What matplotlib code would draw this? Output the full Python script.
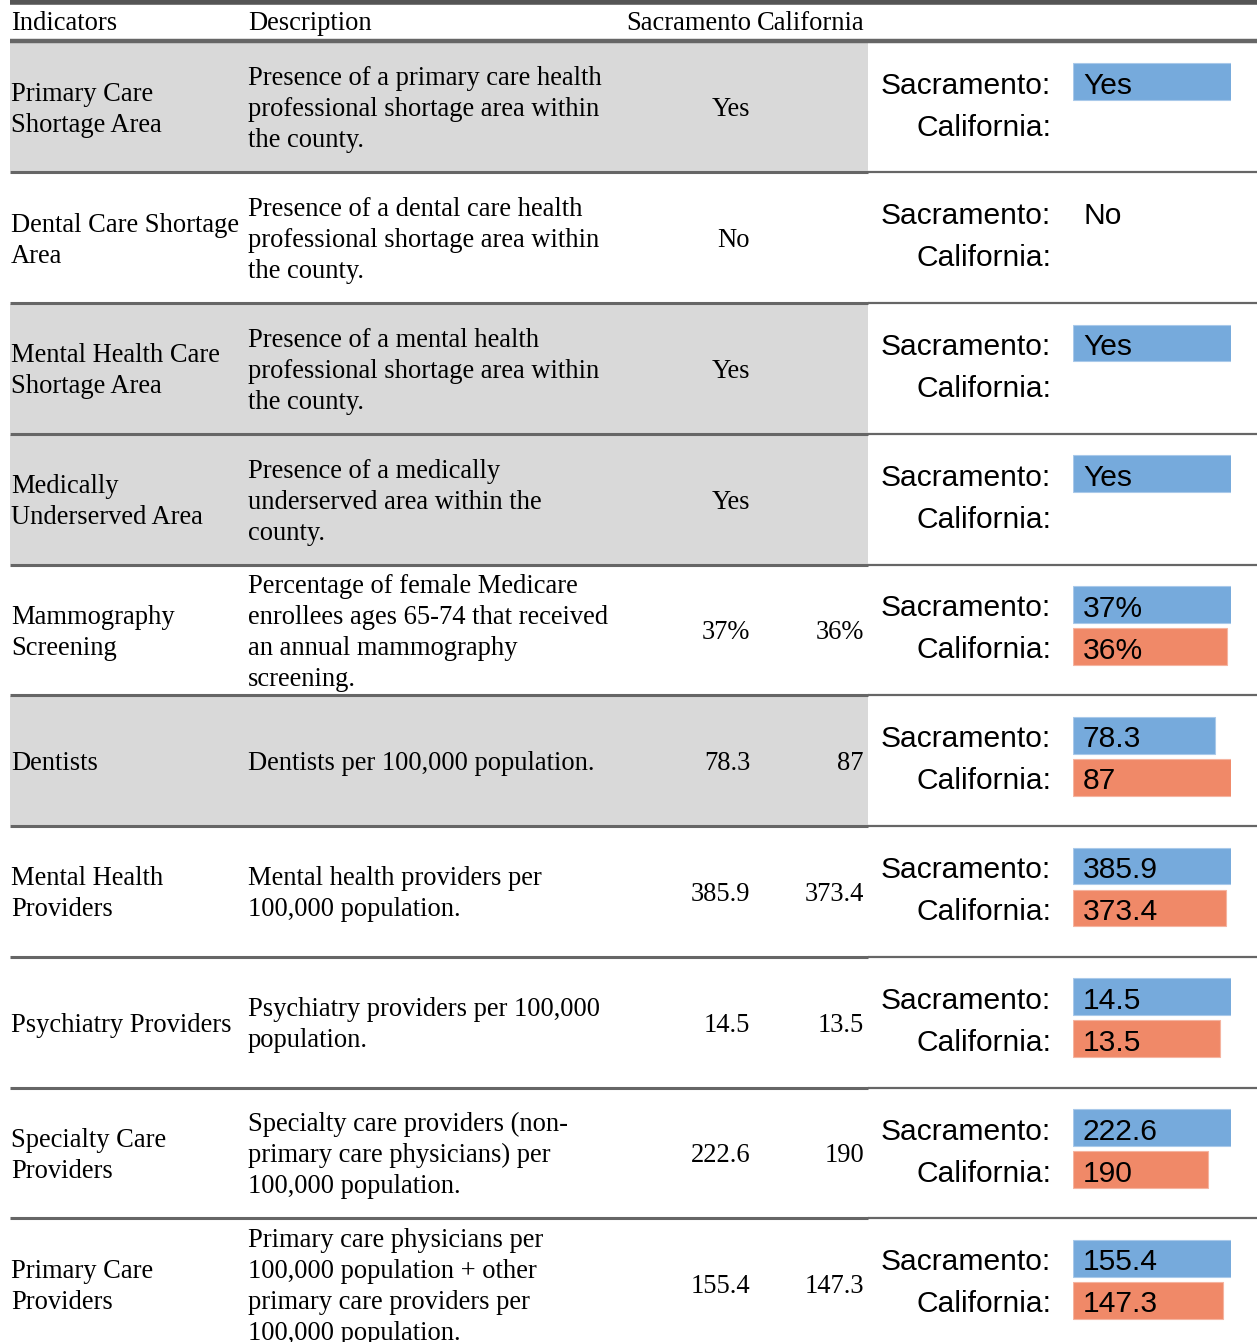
import numpy as np
import matplotlib
matplotlib.use('Agg')
import matplotlib.pyplot as plt

indicators = [
    'Primary Care\nShortage Area', 'Dental Care Shortage\nArea',
    'Mental Health Care\nShortage Area', 'Medically\nUnderserved Area',
    'Mammography\nScreening', 'Dentists', 'Mental Health\nProviders',
    'Psychiatry Providers', 'Specialty Care\nProviders', 'Primary Care\nProviders'
]
descriptions = [
    'Presence of a primary care health\nprofessional shortage area within\nthe county.',
    'Presence of a dental care health\nprofessional shortage area within\nthe county.',
    'Presence of a mental health\nprofessional shortage area within\nthe county.',
    'Presence of a medically\nunderserved area within the\ncounty.',
    'Percentage of female Medicare\nenrollees ages 65-74 that received\nan annual mammography\nscreening.',
    'Dentists per 100,000 population.',
    'Mental health providers per\n100,000 population.',
    'Psychiatry providers per 100,000\npopulation.',
    'Specialty care providers (non-\nprimary care physicians) per\n100,000 population.',
    'Primary care physicians per\n100,000 population + other\nprimary care providers per\n100,000 population.',
]
sac_labels = ['Yes', 'No', 'Yes', 'Yes', '37%', '78.3', '385.9', '14.5', '222.6', '155.4']
cal_labels = ['', '', '', '', '36%', '87', '373.4', '13.5', '190', '147.3']
# numeric values for the bars (Yes = 1, No = 0, no California value = nan)
sac_values = [1, 0, 1, 1, 37, 78.3, 385.9, 14.5, 222.6, 155.4]
cal_values = [np.nan, np.nan, np.nan, np.nan, 36, 87, 373.4, 13.5, 190, 147.3]
shaded = [True, False, True, True, False, True, False, False, False, False]

blue = '#76aadc'
orange = '#f08968'
line_col = '#666666'
serif = ['Liberation Serif', 'DejaVu Serif']
sans = ['Liberation Sans', 'DejaVu Sans']

W, H = 1257, 1342
fig = plt.figure(figsize=(W / 100, H / 100), dpi=100)
ax = fig.add_axes([0, 0, 1, 1])
ax.set_xlim(0, W)
ax.set_ylim(H, 0)
ax.axis('off')

fs = 19.1
sfs = 21.6
pitch = 31
row_top0 = 41.5
row_h = 130.75


def multiline(x, yc, s, ha='left'):
    lines = s.split('\n')
    n = len(lines)
    for i, ln in enumerate(lines):
        y = yc + (i - (n - 1) / 2) * pitch
        ax.text(x, y, ln, ha=ha, va='center', fontsize=fs, family=serif)


# top bar and header
ax.plot([10, W], [2, 2], color='#555555', lw=4, solid_capstyle='butt')
ax.text(11, 24, 'Indicators', fontsize=fs, family=serif, va='center')
ax.text(248, 24, 'Description', fontsize=fs, family=serif, va='center')
ax.text(626, 24, 'Sacramento', fontsize=fs, family=serif, va='center')
ax.text(757, 24, 'California', fontsize=fs, family=serif, va='center')
ax.plot([10, W], [40.5, 40.5], color=line_col, lw=3.2, solid_capstyle='butt')

for i in range(len(indicators)):
    top = row_top0 + i * row_h
    yc = top + row_h / 2 + 3
    if shaded[i]:
        ax.add_patch(plt.Rectangle((10, top + 1), 858, row_h - 2, color='#d9d9d9', lw=0))
    if i < len(indicators) - 1:
        ax.plot([10, 868], [top + row_h, top + row_h], color=line_col, lw=2.2,
                solid_capstyle='butt')
        ax.plot([868, W], [top + row_h, top + row_h], color=line_col, lw=1.6,
                solid_capstyle='butt')
    multiline(11, yc, indicators[i])
    multiline(248, yc, descriptions[i])
    ax.text(750, yc, sac_labels[i], ha='right', va='center', fontsize=fs, family=serif)
    ax.text(864, yc, cal_labels[i], ha='right', va='center', fontsize=fs, family=serif)

    # mini bar chart on the right
    ax.text(1051, top + 44, 'Sacramento:', ha='right', va='center', fontsize=sfs, family=sans)
    ax.text(1051, top + 86, 'California:', ha='right', va='center', fontsize=sfs, family=sans)

    bx = fig.add_axes([1073 / W, 1 - (top + 103) / H, 158 / W, 84 / H])
    vals = [sac_values[i], cal_values[i]]
    vmax = np.nanmax(vals)
    for j, v in enumerate(vals):
        if np.isnan(v) or v == 0:
            continue
        bx.barh(j, v, height=0.88, color=[blue, orange][j],
                edgecolor=['#a9c9ea', '#f5b4a0'][j], lw=0.8)
    bx.set_xlim(0, vmax if vmax > 0 else 1)
    bx.set_ylim(1.5, -0.5)
    bx.axis('off')
    bx.text(10 / 158, 0.1, sac_labels[i], transform=bx.get_yaxis_transform(),
            ha='left', va='center', fontsize=sfs, family=sans)
    bx.text(10 / 158, 1.1, cal_labels[i], transform=bx.get_yaxis_transform(),
            ha='left', va='center', fontsize=sfs, family=sans)

fig.savefig('out.png', dpi=100)
